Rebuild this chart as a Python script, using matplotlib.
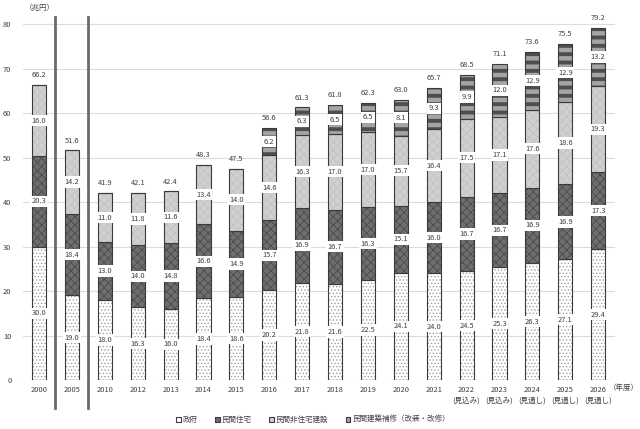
import numpy as np
import matplotlib
matplotlib.use("Agg")
import matplotlib.pyplot as plt
from matplotlib.patches import Patch

plt.rcParams['font.family'] = ['Noto Sans CJK JP', 'DejaVu Sans']

# data (兆円)
years = ['2000', '2005', '2010', '2012', '2013', '2014', '2015', '2016', '2017',
         '2018', '2019', '2020', '2021', '2022\n(見込み)', '2023\n(見込み)',
         '2024\n(見通し)', '2025\n(見通し)', '2026\n(見通し)']
seifu = [30.0, 19.0, 18.0, 16.3, 16.0, 18.4, 18.6, 20.2, 21.8, 21.6, 22.5, 24.1,
         24.0, 24.5, 25.3, 26.3, 27.1, 29.4]
jutaku = [20.3, 18.4, 13.0, 14.0, 14.8, 16.6, 14.9, 15.7, 16.9, 16.7, 16.3, 15.1,
          16.0, 16.7, 16.7, 16.9, 16.9, 17.3]
hijutaku = [16.0, 14.2, 11.0, 11.8, 11.6, 13.4, 14.0, 14.6, 16.3, 17.0, 17.0, 15.7,
            16.4, 17.5, 17.1, 17.6, 18.6, 19.3]
hoshu = [0, 0, 0, 0, 0, 0, 0, 6.2, 6.3, 6.5, 6.5, 8.1, 9.3, 9.9, 12.0, 12.9, 12.9, 13.2]
totals = [66.2, 51.6, 41.9, 42.1, 42.4, 48.3, 47.5, 56.6, 61.3, 61.8, 62.3, 63.0,
          65.7, 68.5, 71.1, 73.6, 75.5, 79.2]
names = ['政府', '民間住宅', '民間非住宅建設', '民間建築補修（改装・改修）']

fig = plt.figure(figsize=(6.4, 4.29), dpi=100)
ax = fig.add_axes([0.0353, 0.1142, 0.925, 0.8503])

x = np.arange(len(years))
w = 0.43
fs = 5.4
txt_col = '#404040'
styles = [
    dict(facecolor='white', hatch='.....', hatchcolor='#a0a0a0', hlw=0.6),
    dict(facecolor='#6e6e6e', hatch='xxxx', hatchcolor='#4a4a4a', hlw=0.6),
    dict(facecolor='#d0d0d0', hatch='xxxx', hatchcolor='#c0c0c0', hlw=0.5),
    dict(facecolor='#a4a4a4', hatch='--', hatchcolor='#4e4e4e', hlw=2.8),
]

bottom = np.zeros(len(years))
for vals, st in zip([seifu, jutaku, hijutaku, hoshu], styles):
    vals = np.array(vals, dtype=float)
    with plt.rc_context({'hatch.linewidth': st['hlw'], 'hatch.color': st['hatchcolor']}):
        bars = ax.bar(x, vals, w, bottom=bottom, facecolor=st['facecolor'],
                      edgecolor='#3a3a3a', linewidth=0.8, zorder=3)
        for b in bars:
            b.set_hatch(st['hatch'])
            b._hatch_color = matplotlib.colors.to_rgba(st['hatchcolor'])
    for i, v in enumerate(vals):
        if v > 0:
            ax.text(x[i], bottom[i] + v / 2, f'{v:.1f}', ha='center', va='center',
                    fontsize=fs, color=txt_col, zorder=5,
                    bbox=dict(facecolor='white', edgecolor='none', pad=1.2))
    bottom += vals

for i, t in enumerate(totals):
    ax.text(x[i], bottom[i] + 1.3, f'{t:.1f}', ha='center', va='bottom',
            fontsize=fs, color=txt_col)

ax.set_xlim(-0.5, len(years) - 0.5)
ax.set_ylim(0, 82)
ax.set_yticks(np.arange(0, 81, 10))
ax.yaxis.grid(True, color='#dcdcdc', linewidth=0.8, zorder=0)
ax.set_xticks(x)
ax.set_xticklabels(years, fontsize=fs, color=txt_col, linespacing=1.5)
ax.tick_params(axis='y', labelsize=fs, colors=txt_col, length=0, pad=8)
ax.tick_params(axis='x', length=0, pad=4)
for s in ax.spines.values():
    s.set_visible(False)

# separators between 2000 / 2005 / 2010
for xs in [0.5, 1.5]:
    ax.plot([xs, xs], [-6.4, 81.6], color='#6a6a6a', linewidth=2.0,
            clip_on=False, zorder=4)

fig.text(0.039, 0.981, '（兆円）', fontsize=fs, color=txt_col, ha='left', va='center')
fig.text(0.975, 0.095, '（年度）', fontsize=fs, color=txt_col, ha='center', va='center')

handles = []
for st, nm in zip(styles, names):
    p = Patch(facecolor=st['facecolor'], edgecolor='#3a3a3a', linewidth=0.8, label=nm)
    handles.append(p)
fig.legend(handles=handles, loc='center', bbox_to_anchor=(0.489, 0.021), ncol=4,
           frameon=False, fontsize=fs, handlelength=0.65, handleheight=0.65,
           handletextpad=0.25, columnspacing=2.3, labelcolor=txt_col)

fig.savefig('out.png', dpi=100)
